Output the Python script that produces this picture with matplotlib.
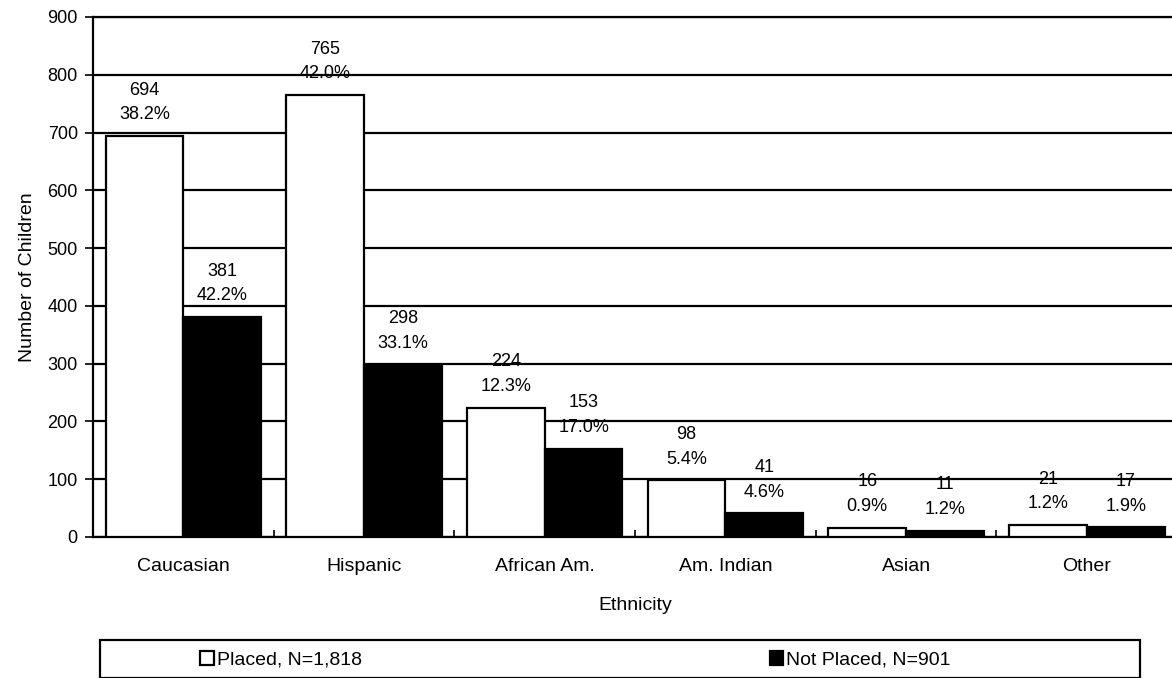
import matplotlib.pyplot as plt
import numpy as np
from matplotlib.patches import Rectangle

plt.rcParams['font.family'] = ['Liberation Sans', 'DejaVu Sans']

categories = ['Caucasian', 'Hispanic', 'African Am.', 'Am. Indian', 'Asian', 'Other']
placed = [694, 765, 224, 98, 16, 21]
placed_pct = ['38.2%', '42.0%', '12.3%', '5.4%', '0.9%', '1.2%']
not_placed = [381, 298, 153, 41, 11, 17]
not_placed_pct = ['42.2%', '33.1%', '17.0%', '4.6%', '1.2%', '1.9%']
legend_labels = ['Placed, N=1,818', 'Not Placed, N=901']

fig = plt.figure(figsize=(11.72, 6.78), dpi=100)
ax = fig.add_axes([0.0794, 0.208, 0.925, 0.767])

x = np.arange(len(categories))
w = 0.43
b1 = ax.bar(x - w, placed, w, align='edge', color='white', edgecolor='black', linewidth=1.6, zorder=3)
b2 = ax.bar(x, not_placed, w, align='edge', color='black', edgecolor='black', linewidth=1.6, zorder=3)

for xi, v, p in zip(x - w / 2, placed, placed_pct):
    ax.annotate(f'{v}\n{p}', (xi, v), xytext=(0, 9), textcoords='offset points',
                ha='center', va='bottom', fontsize=13, linespacing=1.6, zorder=4)
for xi, v, p in zip(x + w / 2, not_placed, not_placed_pct):
    ax.annotate(f'{v}\n{p}', (xi, v), xytext=(0, 9), textcoords='offset points',
                ha='center', va='bottom', fontsize=13, linespacing=1.6, zorder=4)

ax.set_ylim(0, 900)
ax.set_xlim(-0.5, len(categories) - 0.5)
ax.set_yticks(range(0, 901, 100))
ax.yaxis.grid(True, color='black', linewidth=1.6, zorder=1)
ax.set_axisbelow(True)
ax.set_xticks(x)
ax.set_xticklabels(categories, fontsize=14)
ax.set_xticks(np.arange(0.5, len(categories) - 0.5), minor=True)
ax.tick_params(axis='x', which='major', length=0, pad=15)
ax.tick_params(axis='x', which='minor', direction='in', length=5, width=1.2)
ax.tick_params(axis='y', labelsize=13, length=6, width=1.2, pad=5)
ax.set_ylabel('Number of Children', fontsize=14, labelpad=8)
ax.set_xlabel('Ethnicity', fontsize=14, labelpad=16)
ax.spines['right'].set_visible(False)
for s in ['left', 'bottom', 'top']:
    ax.spines[s].set_linewidth(1.6)

# legend box below the axes
fig.patches.append(Rectangle((100 / 1172, 0.0), 1040 / 1172, 38 / 678, transform=fig.transFigure,
                             fill=False, edgecolor='black', linewidth=1.6, clip_on=False))
fig.legend([b1, b2], legend_labels, loc='center left', bbox_to_anchor=(200 / 1172, 18 / 678),
           ncol=2, frameon=False, fontsize=14, handlelength=0.7, handleheight=0.7,
           handletextpad=0.15, columnspacing=21, borderaxespad=0, borderpad=0)

fig.savefig('out.png', dpi=100)
